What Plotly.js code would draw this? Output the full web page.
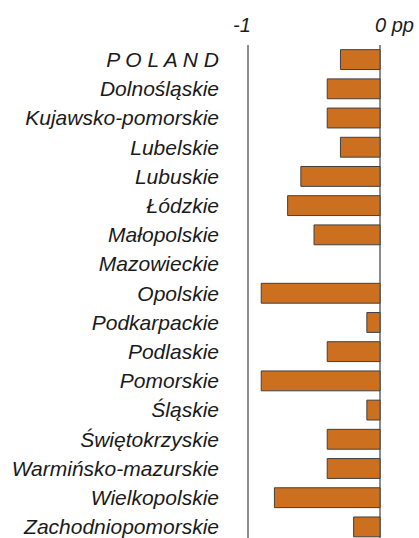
<!DOCTYPE html>
<html>
<head>
<meta charset="utf-8">
<script src="https://cdn.plot.ly/plotly-3.0.1.min.js"></script>
<style>html,body{margin:0;padding:0;background:#fff;}#chart{width:419px;height:538px;}</style>
</head>
<body>
<div id="chart"></div>
<script>
const regions = ["P O L A N D","Dolnośląskie","Kujawsko-pomorskie","Lubelskie","Lubuskie","Łódzkie","Małopolskie","Mazowieckie","Opolskie","Podkarpackie","Podlaskie","Pomorskie","Śląskie","Świętokrzyskie","Warmińsko-mazurskie","Wielkopolskie","Zachodniopomorskie"];
const changePP = [-0.3,-0.4,-0.4,-0.3,-0.6,-0.7,-0.5,0,-0.9,-0.1,-0.4,-0.9,-0.1,-0.4,-0.4,-0.8,-0.2];
const tickValues = [-1, 0];
const tickLabels = ["-1", "0 pp"];

const FONT = "Liberation Sans, Arial, sans-serif";

const trace = {
  type: "bar",
  orientation: "h",
  y: regions.map((_, i) => i),
  x: changePP,
  width: 0.68,
  marker: {color: "#CC6F1E", line: {color: "#404040", width: changePP.map(v => v === 0 ? 0 : 1)}},
  hoverinfo: "x+text",
  text: regions,
  textposition: "none"
};

const annotations = tickValues.map((v, i) => ({
  x: v, xref: "x", y: 1, yref: "paper",
  text: "<i>" + tickLabels[i] + "</i>",
  showarrow: false,
  xanchor: i === 0 ? "center" : "left",
  xshift: i === 0 ? -6 : -7,
  yanchor: "middle", yshift: 20,
  font: {family: FONT, size: 20, color: "#1a1a1a"}
}));

const layout = {
  width: 419, height: 538,
  margin: {l: 222, r: 0, t: 45, b: 0, pad: 0},
  paper_bgcolor: "#fff", plot_bgcolor: "#fff",
  showlegend: false,
  bargap: 0,
  xaxis: {
    range: [-1.197, 0.295],
    tickvals: tickValues,
    showticklabels: false,
    showgrid: true, gridcolor: "#8c8c8c", gridwidth: 2,
    zeroline: true, zerolinecolor: "#8c8c8c", zerolinewidth: 2,
    showline: false, fixedrange: true
  },
  yaxis: {
    range: [16.38, -0.5],
    tickvals: regions.map((_, i) => i),
    ticktext: regions.map(r => "<i>" + r + "</i>"),
    showgrid: false, zeroline: false, showline: false,
    ticks: "", ticklabelstandoff: 2,
    ticklabeloverflow: "allow",
    tickfont: {family: FONT, size: 21, color: "#1a1a1a"},
    fixedrange: true
  },
  annotations: annotations
};

Plotly.newPlot("chart", [trace], layout, {displayModeBar: false, staticPlot: true});
</script>
</body>
</html>
